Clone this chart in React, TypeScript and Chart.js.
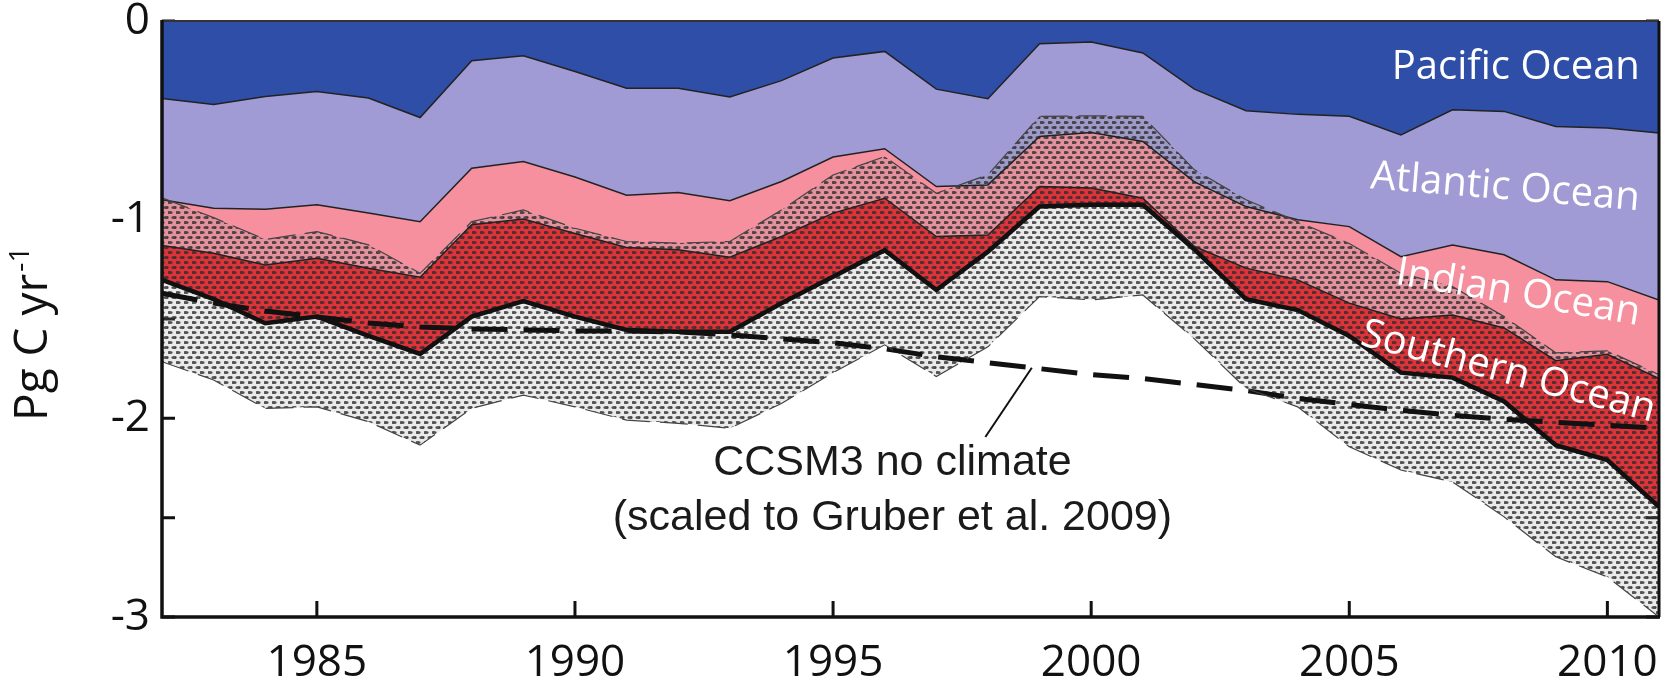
import React, { useEffect, useRef } from "react";
import { Chart, registerables } from "chart.js";

Chart.register(...registerables);

// ---------- DATA (Pg C / yr, negative = uptake) ----------
const years = [
  1982, 1983, 1984, 1985, 1986, 1987, 1988, 1989, 1990, 1991,
  1992, 1993, 1994, 1995, 1996, 1997, 1998, 1999, 2000, 2001,
  2002, 2003, 2004, 2005, 2006, 2007, 2008, 2009, 2010, 2011,
];

// lower edge of the Pacific band
const pacificBottom = [
  -0.39, -0.42, -0.38, -0.355, -0.388, -0.486, -0.2, -0.175, -0.254, -0.338,
  -0.338, -0.383, -0.3, -0.186, -0.153, -0.343, -0.391, -0.114, -0.106, -0.161,
  -0.343, -0.452, -0.47, -0.48, -0.573, -0.447, -0.455, -0.531, -0.539, -0.564,
];

// lower edge of the Atlantic band
const atlanticBottom = [
  -0.9, -0.942, -0.947, -0.925, -0.967, -1.01, -0.741, -0.707, -0.785, -0.877,
  -0.863, -0.905, -0.808, -0.685, -0.643, -0.833, -0.825, -0.581, -0.561, -0.606,
  -0.81, -0.934, -1.0, -1.035, -1.186, -1.127, -1.177, -1.303, -1.312, -1.404,
];

// lower edge of the Indian band
const indianBottom = [
  -1.13, -1.169, -1.228, -1.194, -1.245, -1.29, -1.026, -0.997, -1.07, -1.14,
  -1.152, -1.189, -1.085, -0.967, -0.892, -1.085, -1.077, -0.833, -0.841, -0.892,
  -1.135, -1.244, -1.303, -1.42, -1.5, -1.48, -1.545, -1.71, -1.678, -1.8,
];

// total uptake (lower edge of the Southern band, thick line)
const totalUptake = [
  -1.303, -1.4, -1.521, -1.488, -1.585, -1.676, -1.488, -1.41, -1.488, -1.555,
  -1.564, -1.564, -1.421, -1.287, -1.154, -1.354, -1.161, -0.934, -0.925, -0.925,
  -1.15, -1.4, -1.455, -1.585, -1.77, -1.795, -1.915, -2.135, -2.21, -2.445,
];

// uncertainty range of the total (hatched band)
const upperBound = [
  -0.89, -0.99, -1.1, -1.06, -1.127, -1.27, -1.01, -0.951, -1.043, -1.11,
  -1.118, -1.11, -0.951, -0.775, -0.682, -0.867, -0.774, -0.48, -0.477, -0.48,
  -0.749, -0.9, -1.01, -1.12, -1.27, -1.337, -1.488, -1.67, -1.66, -1.78,
];
const lowerBound = [
  -1.715, -1.807, -1.95, -1.942, -2.017, -2.135, -1.95, -1.883, -1.942, -2.009,
  -2.025, -2.05, -1.925, -1.77, -1.63, -1.79, -1.64, -1.387, -1.404, -1.379,
  -1.6, -1.849, -1.942, -2.143, -2.26, -2.32, -2.496, -2.697, -2.798, -3.0,
];

// CCSM3 no climate (scaled to Gruber et al. 2009)
const ccsm3NoClimate = [
  -1.37, -1.42, -1.46, -1.49, -1.52, -1.54, -1.55, -1.555, -1.56, -1.56,
  -1.565, -1.58, -1.6, -1.62, -1.65, -1.69, -1.72, -1.75, -1.78, -1.8,
  -1.83, -1.86, -1.9, -1.93, -1.96, -1.985, -2.005, -2.02, -2.035, -2.05,
];

const xTickYears = [1985, 1990, 1995, 2000, 2005, 2010];
const yTickValues = [0, -0.5, -1, -1.5, -2, -2.5, -3];

const oceanLabels = [
  { text: "Pacific Ocean", x: 2010.63, y: -0.236, angle: 0, align: "right" },
  { text: "Atlantic Ocean", x: 2008.02, y: -0.84, angle: 4.7, align: "center" },
  { text: "Indian Ocean", x: 2008.27, y: -1.37, angle: 9.6, align: "center" },
  { text: "Southern Ocean", x: 2008.08, y: -1.767, angle: 14.8, align: "center" },
];

const ccsmTextLines = ["CCSM3 no climate", "(scaled to Gruber et al. 2009)"];
const ccsmTextX = 1996.15;
const ccsmTextY = [-2.225, -2.5];
const leaderFrom = { x: 1997.95, y: -2.094 };
const leaderToYear = 1998.85;

// ---------- helpers ----------
function pts(values: number[]) {
  return years.map((x, i) => ({ x, y: values[i] }));
}

function interp(values: number[], yr: number) {
  for (let i = 0; i < years.length - 1; i++) {
    if (yr >= years[i] && yr <= years[i + 1]) {
      const t = (yr - years[i]) / (years[i + 1] - years[i]);
      return values[i] + t * (values[i + 1] - values[i]);
    }
  }
  return values[values.length - 1];
}

function makeDotPattern(ctx: CanvasRenderingContext2D) {
  const c = document.createElement("canvas");
  c.width = 8;
  c.height = 10;
  const g = c.getContext("2d")!;
  g.fillStyle = "rgba(150,150,150,0.2)";
  g.fillRect(0, 0, 8, 10);
  g.fillStyle = "rgba(45,45,45,0.8)";
  const centers = [
    [2, 2.5],
    [6, 7.5],
    [10, 7.5],
    [-2, 7.5],
    [10, 2.5 - 10],
  ];
  centers.forEach(([cx, cy]) => {
    g.beginPath();
    g.ellipse(cx, cy, 2.7, 1.6, 0, 0, Math.PI * 2);
    g.fill();
  });
  return ctx.createPattern(c, "repeat")!;
}

const TICK_FONT = '"Open Sans", "DejaVu Sans", sans-serif';
const NOTE_FONT = '"Liberation Sans", Arial, sans-serif';

export default function App() {
  const ref = useRef<HTMLCanvasElement>(null);

  useEffect(() => {
    document.body.style.margin = "0";
    const canvas = ref.current!;
    const ctx = canvas.getContext("2d")!;
    const dots = makeDotPattern(ctx);

    const overlay = {
      id: "overlay",
      beforeDraw(chart: any) {
        const c = chart.ctx;
        const { left, right, top, bottom } = chart.chartArea;
        const xs = chart.scales.x;
        const ys = chart.scales.y;
        c.save();
        c.strokeStyle = "#111";
        c.lineWidth = 3;
        yTickValues.forEach((v) => {
          const y = ys.getPixelForValue(v);
          c.beginPath();
          c.moveTo(left, y);
          c.lineTo(left + 13, y);
          c.moveTo(right, y);
          c.lineTo(right - 13, y);
          c.stroke();
        });
        xTickYears.forEach((v) => {
          const x = xs.getPixelForValue(v);
          c.beginPath();
          c.moveTo(x, bottom);
          c.lineTo(x, bottom - 16);
          c.moveTo(x, top);
          c.lineTo(x, top + 16);
          c.stroke();
        });
        c.restore();
      },
      afterDraw(chart: any) {
        const c = chart.ctx;
        const { left, right, top, bottom } = chart.chartArea;
        const xs = chart.scales.x;
        const ys = chart.scales.y;
        c.save();
        // frame
        c.strokeStyle = "#333";
        c.lineWidth = 2;
        c.beginPath();
        c.moveTo(left, top);
        c.lineTo(right, top);
        c.stroke();
        c.strokeStyle = "#111";
        c.lineWidth = 3;
        c.beginPath();
        c.moveTo(right, top);
        c.lineTo(right, bottom);
        c.stroke();
        c.lineWidth = 3.5;
        c.beginPath();
        c.moveTo(left, top - 1);
        c.lineTo(left, bottom);
        c.lineTo(right + 1, bottom);
        c.stroke();

        // ocean labels
        c.fillStyle = "#ffffff";
        c.font = `40px ${TICK_FONT}`;
        c.textBaseline = "middle";
        oceanLabels.forEach((l) => {
          const px = xs.getPixelForValue(l.x);
          const py = ys.getPixelForValue(l.y);
          c.save();
          c.translate(px, py);
          c.rotate((l.angle * Math.PI) / 180);
          c.textAlign = l.align as CanvasTextAlign;
          c.fillText(l.text, 0, 0);
          c.restore();
        });

        // CCSM3 annotation
        c.fillStyle = "#1a1a1a";
        c.font = `43px ${NOTE_FONT}`;
        c.textAlign = "center";
        c.textBaseline = "middle";
        ccsmTextLines.forEach((t, i) => {
          c.fillText(t, xs.getPixelForValue(ccsmTextX), ys.getPixelForValue(ccsmTextY[i]));
        });
        c.strokeStyle = "#111";
        c.lineWidth = 2;
        c.beginPath();
        c.moveTo(xs.getPixelForValue(leaderFrom.x), ys.getPixelForValue(leaderFrom.y));
        c.lineTo(
          xs.getPixelForValue(leaderToYear),
          ys.getPixelForValue(interp(ccsm3NoClimate, leaderToYear))
        );
        c.stroke();

        // y-axis title
        c.save();
        c.translate(47, 421);
        c.rotate(-Math.PI / 2);
        c.fillStyle = "#111";
        c.textAlign = "left";
        c.textBaseline = "alphabetic";
        c.font = `46px ${TICK_FONT}`;
        c.fillText("Pg C yr", 0, 0);
        const w = c.measureText("Pg C yr").width;
        c.font = `28px ${TICK_FONT}`;
        c.fillText("-1", w + 2, -18);
        c.restore();
        c.restore();
      },
    };

    const thin = { borderColor: "#222", borderWidth: 1.5 };

    const chart = new Chart(ctx, {
      type: "line",
      data: {
        datasets: [
          {
            label: "upper",
            data: pts(upperBound),
            fill: "+1",
            backgroundColor: dots,
            borderColor: "#444",
            borderWidth: 1.2,
            borderDash: [28, 10],
          },
          {
            label: "lower",
            data: pts(lowerBound),
            fill: false,
            borderColor: "#444",
            borderWidth: 1.2,
            borderDash: [28, 10],
          },
          {
            label: "CCSM3 no climate",
            data: pts(ccsm3NoClimate),
            fill: false,
            borderColor: "#111",
            borderWidth: 5,
            borderDash: [36, 16],
          },
          {
            label: "Pacific Ocean",
            data: pts(pacificBottom),
            fill: "end",
            backgroundColor: "#2f4ea8",
            ...thin,
          },
          {
            label: "Atlantic Ocean",
            data: pts(atlanticBottom),
            fill: "-1",
            backgroundColor: "#a09bd5",
            ...thin,
          },
          {
            label: "Indian Ocean",
            data: pts(indianBottom),
            fill: "-1",
            backgroundColor: "#f6909f",
            ...thin,
          },
          {
            label: "Southern Ocean",
            data: pts(totalUptake),
            fill: "-1",
            backgroundColor: "#ee1c25",
            borderColor: "#111",
            borderWidth: 4.5,
          },
        ] as any,
      },
      options: {
        animation: false,
        responsive: false,
        maintainAspectRatio: false,
        layout: { autoPadding: false, padding: { top: 21, right: 14, left: 0, bottom: 0 } } as any,
        elements: { point: { radius: 0 }, line: { tension: 0 } },
        plugins: {
          legend: { display: false },
          tooltip: { enabled: false },
          filler: { drawTime: "beforeDatasetsDraw" } as any,
        },
        scales: {
          x: {
            type: "linear",
            min: 1982,
            max: 2011,
            grid: { display: false, drawTicks: false },
            border: { display: false },
            afterBuildTicks: (s: any) => {
              s.ticks = xTickYears.map((v) => ({ value: v }));
            },
            afterFit: (s: any) => {
              s.height = 67;
              s.paddingLeft = 0;
              s.paddingRight = 0;
            },
            ticks: {
              padding: 20,
              color: "#111",
              font: { family: TICK_FONT, size: 44 },
              maxRotation: 0,
              autoSkip: false,
              callback: (v: any) => String(v),
            },
          },
          y: {
            type: "linear",
            min: -3,
            max: 0,
            grid: { display: false, drawTicks: false },
            border: { display: false },
            afterBuildTicks: (s: any) => {
              s.ticks = yTickValues.map((v) => ({ value: v }));
            },
            afterFit: (s: any) => {
              s.width = 162;
              s.paddingTop = 0;
              s.paddingBottom = 0;
            },
            ticks: {
              padding: 12,
              color: "#111",
              font: { family: TICK_FONT, size: 44 },
              autoSkip: false,
              callback: (v: any) => (Number.isInteger(Number(v)) ? String(Number(v)) : ""),
            },
          },
        },
      },
      plugins: [overlay as any],
    });

    return () => chart.destroy();
  }, []);

  return (
    <div style={{ width: 1673, height: 684, background: "#fff" }}>
      <canvas ref={ref} width={1673} height={684} style={{ display: "block" }} />
    </div>
  );
}
